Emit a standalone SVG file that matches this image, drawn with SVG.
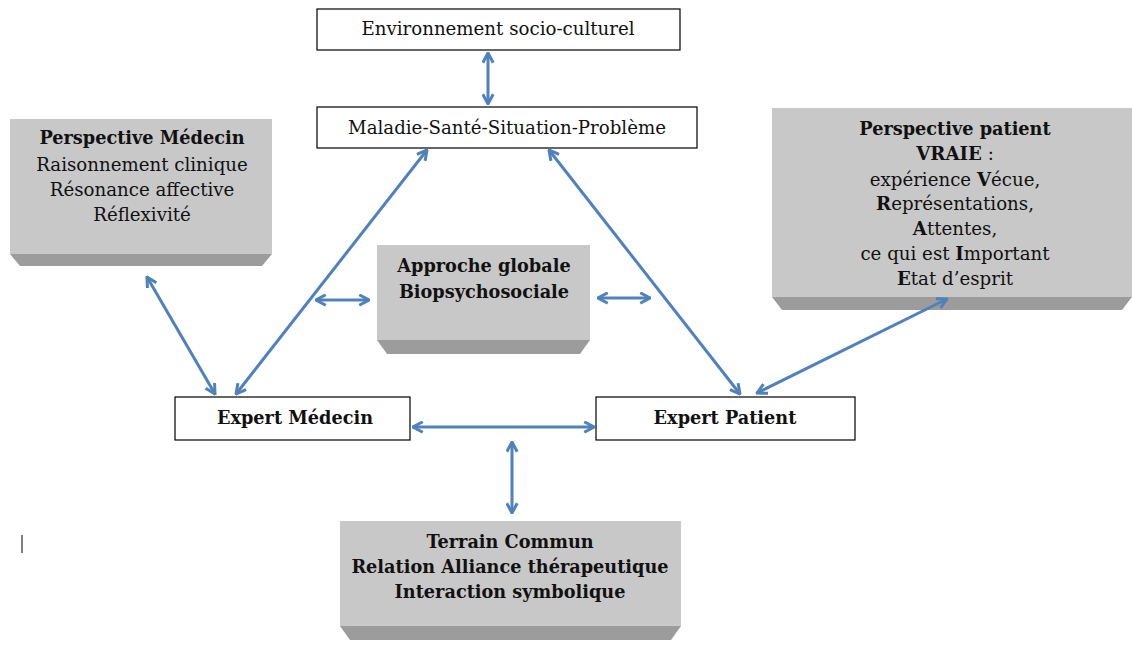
<svg xmlns="http://www.w3.org/2000/svg" width="1132" height="650" viewBox="0 0 1132 650">
<defs>
<marker id="ah" viewBox="0 0 10 10" refX="9" refY="5" markerWidth="13" markerHeight="13" markerUnits="userSpaceOnUse" orient="auto-start-reverse">
<path d="M1.5,1 L9,5 L1.5,9" fill="none" stroke="#4f81bd" stroke-width="2.3" stroke-linejoin="miter"/>
</marker>
</defs>
<style>
.box{fill:#fff;stroke:#000;stroke-width:1.2}
.face{fill:#c8c8c8}
.bevel{fill:#9c9c9c}
text{font-family:"DejaVu Serif","Liberation Serif",serif;font-size:18.2px;fill:#111;text-anchor:middle}
.b{font-weight:bold;font-size:17.7px}
tspan.b{font-size:18.2px}
.c{fill:none;stroke:#4f81bd;stroke-width:3;marker-start:url(#ah);marker-end:url(#ah)}
</style>
<rect width="1132" height="650" fill="#fff"/>

<g id="env">
<rect class="box" x="317" y="9" width="363" height="41"/>
<text x="498" y="35">Environnement socio-culturel</text>
</g>

<g id="maladie">
<rect class="box" x="317" y="107" width="380" height="41"/>
<text x="507" y="134">Maladie-Santé-Situation-Problème</text>
</g>

<g id="persp-medecin">
<rect class="face" x="10" y="119" width="262" height="135"/>
<polygon class="bevel" points="10,254 272,254 262,266 20,266"/>
<text x="142" y="144" class="b">Perspective Médecin</text>
<text x="142" y="171">Raisonnement clinique</text>
<text x="142" y="196">Résonance affective</text>
<text x="142" y="221">Réflexivité</text>
</g>

<g id="persp-patient">
<rect class="face" x="772" y="108" width="360" height="189"/>
<polygon class="bevel" points="772,297 1132,297 1122,310 782,310"/>
<text x="955" y="135" class="b">Perspective patient</text>
<text x="955" y="160"><tspan class="b">VRAIE</tspan> :</text>
<text x="955" y="186">expérience <tspan class="b">V</tspan>écue,</text>
<text x="955" y="210"><tspan class="b">R</tspan>eprésentations,</text>
<text x="955" y="235"><tspan class="b">A</tspan>ttentes,</text>
<text x="955" y="260">ce qui est <tspan class="b">I</tspan>mportant</text>
<text x="955" y="285"><tspan class="b">E</tspan>tat d’esprit</text>
</g>

<g id="approche">
<rect class="face" x="377" y="245" width="213" height="95"/>
<polygon class="bevel" points="377,340 590,340 580,354 387,354"/>
<text x="484" y="272" class="b">Approche globale</text>
<text x="484" y="298" class="b">Biopsychosociale</text>
</g>

<g id="expert-medecin">
<rect class="box" x="175" y="397" width="235" height="43"/>
<text x="295" y="424" class="b">Expert Médecin</text>
</g>

<g id="expert-patient">
<rect class="box" x="596" y="397" width="259" height="43"/>
<text x="725" y="424" class="b">Expert Patient</text>
</g>

<g id="terrain">
<rect class="face" x="340" y="521" width="341" height="105"/>
<polygon class="bevel" points="340,626 681,626 671,640 350,640"/>
<text x="510" y="548" class="b">Terrain Commun</text>
<text x="510" y="573" class="b">Relation Alliance thérapeutique</text>
<text x="510" y="598" class="b">Interaction symbolique</text>
</g>

<g id="connectors">
<line class="c" x1="488" y1="53" x2="488" y2="104"/>
<line class="c" x1="147" y1="277" x2="215" y2="394"/>
<line class="c" x1="236" y1="394" x2="427" y2="150"/>
<line class="c" x1="549" y1="150" x2="740" y2="394"/>
<line class="c" x1="757" y1="393" x2="947" y2="299"/>
<line class="c" x1="316" y1="300" x2="369" y2="300"/>
<line class="c" x1="598" y1="298" x2="650" y2="298"/>
<line class="c" x1="413" y1="427" x2="594" y2="427"/>
<line class="c" x1="512" y1="442" x2="512" y2="513"/>
</g>

<line x1="22" y1="535" x2="22" y2="553" stroke="#555" stroke-width="1.5"/>
</svg>
